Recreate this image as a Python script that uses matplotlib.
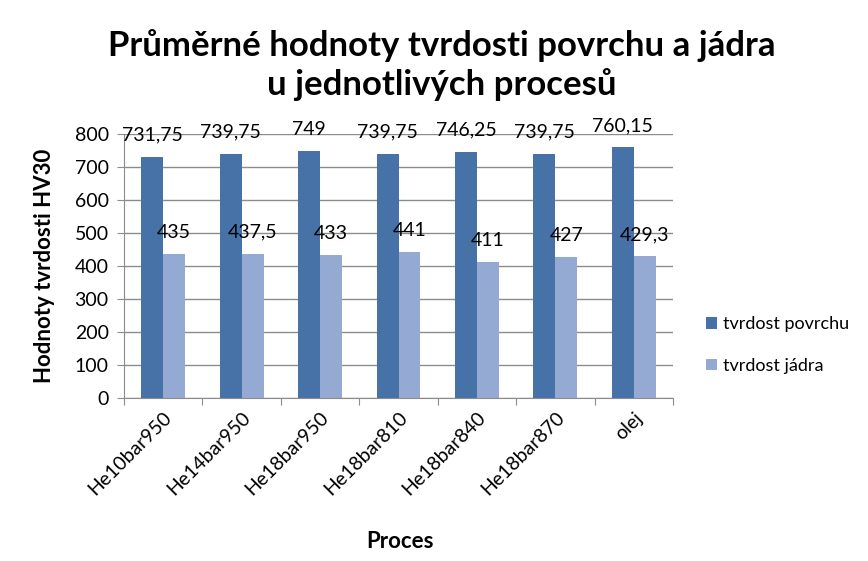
import matplotlib.pyplot as plt
import numpy as np

plt.rcParams["font.family"] = ["Lato", "DejaVu Sans"]

procesy = ["He10bar950", "He14bar950", "He18bar950", "He18bar810", "He18bar840", "He18bar870", "olej"]
povrch = [731.75, 739.75, 749, 739.75, 746.25, 739.75, 760.15]
jadro = [435, 437.5, 433, 441, 411, 427, 429.3]
povrch_txt = ["731,75", "739,75", "749", "739,75", "746,25", "739,75", "760,15"]
jadro_txt = ["435", "437,5", "433", "441", "411", "427", "429,3"]

c_povrch = "#4672a8"
c_jadro = "#95aad2"

fig = plt.figure(figsize=(8.68, 5.61), dpi=100)
ax = fig.add_axes([124 / 868, 1 - 398 / 561, 549 / 868, 264 / 561])

x = np.arange(len(procesy))
w = 0.28
b1 = ax.bar(x - w / 2, povrch, w, color=c_povrch, label="tvrdost povrchu", zorder=2)
b2 = ax.bar(x + w / 2, jadro, w, color=c_jadro, label="tvrdost jádra", zorder=2)

# popisky hodnot nad sloupci
for bars, texts in [(b1, povrch_txt), (b2, jadro_txt)]:
    for rect, t in zip(bars, texts):
        ax.annotate(t, (rect.get_x() + rect.get_width() / 2, rect.get_height()),
                    xytext=(0, 15.5), textcoords="offset points", ha="center", va="center",
                    fontsize=14, zorder=3)

ax.set_xlim(-0.5, len(procesy) - 0.5)
ax.set_ylim(0, 800)
ax.set_yticks(range(0, 801, 100))
ax.yaxis.grid(True, color="#8c8c8c", linewidth=1, zorder=0)
ax.set_axisbelow(True)
for s in ["top", "right"]:
    ax.spines[s].set_visible(False)
ax.spines["left"].set_color("#8c8c8c")
ax.spines["bottom"].set_color("#8c8c8c")
ax.set_xticks(np.arange(-0.5, len(procesy), 1), minor=False)
ax.set_xticklabels([])
ax.set_xticks(x, minor=True)
ax.set_xticklabels(procesy, minor=True, rotation=45, ha="right", rotation_mode="anchor",
                   fontsize=14)
ax.tick_params(axis="x", which="minor", length=0, pad=8)
ax.tick_params(axis="x", which="major", length=5, color="#8c8c8c", direction="out")
ax.tick_params(axis="y", length=5, color="#8c8c8c", labelsize=14, pad=6)

ax.set_ylabel("Hodnoty tvrdosti HV30", fontsize=16, fontweight="bold")
ax.yaxis.set_label_coords(-0.125, 0.5)
fig.text(400 / 868, 1 - 541 / 561, "Proces", fontsize=16, fontweight="bold",
         ha="center", va="center")
fig.text(442 / 868, 1 - 65 / 561, "Průměrné hodnoty tvrdosti povrchu a jádra\nu jednotlivých procesů",
         fontsize=25, fontweight="bold", ha="center", va="center", linespacing=1.2)

fig.legend(loc="center left", bbox_to_anchor=(695 / 868, 1 - 345 / 561), frameon=False,
           fontsize=13, handlelength=0.6, handleheight=0.6, labelspacing=1.4,
           handletextpad=0.35, borderaxespad=0.2)

fig.savefig("out.png", dpi=100)
